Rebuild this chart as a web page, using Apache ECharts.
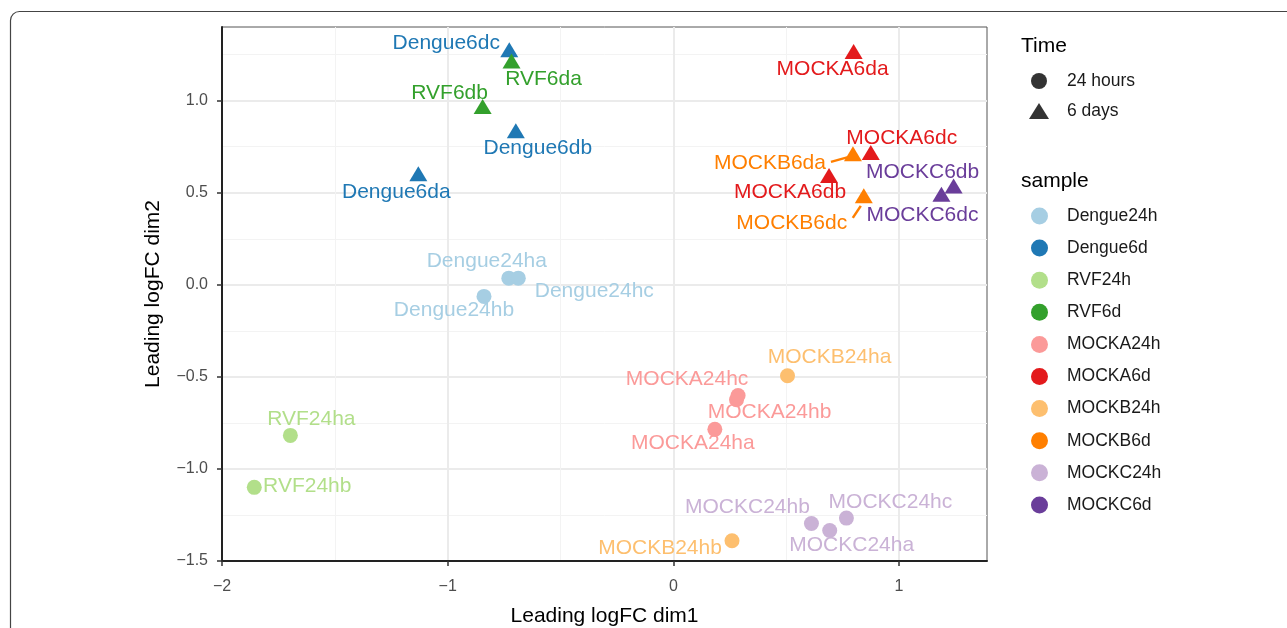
<!DOCTYPE html>
<html>
<head>
<meta charset="utf-8">
<title>MDS plot</title>
<script src="https://cdn.jsdelivr.net/npm/echarts@6.0.0/dist/echarts.min.js"></script>
<style>
html, body { margin: 0; padding: 0; background: #fff; }
#chart { width: 1287px; height: 628px; }
</style>
</head>
<body>
<div id="chart"></div>
<script>
'use strict';
// legend groups
var samples = ['Dengue24h', 'Dengue6d', 'RVF24h', 'RVF6d', 'MOCKA24h', 'MOCKA6d', 'MOCKB24h', 'MOCKB6d', 'MOCKC24h', 'MOCKC6d'];
var sampleTime = ['24 hours', '6 days', '24 hours', '6 days', '24 hours', '6 days', '24 hours', '6 days', '24 hours', '6 days'];
var timeGroups = ['24 hours', '6 days'];

// one entry per library
var pointNames = ['Dengue24ha', 'Dengue24hb', 'Dengue24hc', 'Dengue6da', 'Dengue6db', 'Dengue6dc',
	'RVF24ha', 'RVF24hb', 'RVF6da', 'RVF6db',
	'MOCKA24ha', 'MOCKA24hb', 'MOCKA24hc', 'MOCKA6da', 'MOCKA6db', 'MOCKA6dc',
	'MOCKB24ha', 'MOCKB24hb', 'MOCKB6da', 'MOCKB6dc',
	'MOCKC24ha', 'MOCKC24hb', 'MOCKC24hc', 'MOCKC6db', 'MOCKC6dc'];
var pointSample = ['Dengue24h', 'Dengue24h', 'Dengue24h', 'Dengue6d', 'Dengue6d', 'Dengue6d',
	'RVF24h', 'RVF24h', 'RVF6d', 'RVF6d',
	'MOCKA24h', 'MOCKA24h', 'MOCKA24h', 'MOCKA6d', 'MOCKA6d', 'MOCKA6d',
	'MOCKB24h', 'MOCKB24h', 'MOCKB6d', 'MOCKB6d',
	'MOCKC24h', 'MOCKC24h', 'MOCKC24h', 'MOCKC6d', 'MOCKC6d'];
var dim1 = [-0.729, -0.839, -0.687, -1.130, -0.698, -0.727,
	-1.697, -1.857, -0.717, -0.845,
	0.184, 0.280, 0.287, 0.799, 0.690, 0.875,
	0.506, 0.260, 0.796, 0.844,
	0.693, 0.612, 0.767, 1.242, 1.188];
var dim2 = [0.036, -0.063, 0.036, 0.603, 0.836, 1.276,
	-0.818, -1.100, 1.216, 0.968,
	-0.785, -0.624, -0.601, 1.267, 0.593, 0.718,
	-0.494, -1.390, 0.711, 0.483,
	-1.334, -1.296, -1.267, 0.537, 0.492];

var xTicks = [-2, -1, 0, 1];
var xMinorTicks = [-1.5, -0.5, 0.5];
var yTicks = [-1.5, -1, -0.5, 0, 0.5, 1];
var yMinorTicks = [-1.25, -0.75, -0.25, 0.25, 0.75, 1.25];

// styling / layout
var palette = ['#A6CEE3', '#1F78B4', '#B2DF8A', '#33A02C', '#FB9A99', '#E31A1C', '#FDBF6F', '#FF7F00', '#CAB2D6', '#6A3D9A'];
var FONT = '"Liberation Sans", Arial, Helvetica, sans-serif';
// label offsets from the point, in px (repel result)
var nudge = {
	Dengue24ha: [-22, -17], Dengue24hb: [-30, 14], Dengue24hc: [76, 13],
	Dengue6da: [-22, 18], Dengue6db: [22, 17], Dengue6dc: [-63, -7],
	RVF24ha: [21, -16], RVF24hb: [53, -1], RVF6da: [32, 18], RVF6db: [-33, -13],
	MOCKA24ha: [-22, 14], MOCKA24hb: [33, 13], MOCKA24hc: [-51, -16],
	MOCKA6da: [-21, 18], MOCKA6db: [-39, 17], MOCKA6dc: [31, -14],
	MOCKB24ha: [42, -19], MOCKB24hb: [-72, 7], MOCKB6da: [-83, 9], MOCKB6dc: [-72, 27],
	MOCKC24ha: [22, 15], MOCKC24hb: [-64, -16], MOCKC24hc: [44, -16],
	MOCKC6db: [-31, -14], MOCKC6dc: [-19, 21]
};
// segment ends relative to point, px
var leaders = {
	MOCKB6da: [-22, 8, -4, 3],
	MOCKB6dc: [-11, 22, -3, 10]
};

var chart = echarts.init(document.getElementById('chart'));

var series = samples.map(function(s, k) {
	var tri = sampleTime[k] === '6 days';
	var data = [];
	pointNames.forEach(function(n, i) {
		if (pointSample[i] === s) data.push({ name: n, value: [dim1[i], dim2[i]] });
	});
	return {
		name: s,
		type: 'scatter',
		xAxisIndex: 0,
		yAxisIndex: 0,
		symbol: tri ? 'triangle' : 'circle',
		symbolSize: tri ? [18, 15] : 15,
		itemStyle: { color: palette[k], opacity: 1 },
		data: data,
		z: 3,
		label: {
			show: true,
			position: 'inside',
			formatter: '{b}',
			color: palette[k],
			fontSize: 21,
			fontFamily: FONT,
			textBorderWidth: 0
		},
		labelLayout: function(p) {
			var o = nudge[p.text] || [0, 0];
			return { dx: o[0], dy: o[1] };
		},
		emphasis: { disabled: true }
	};
});

// legend-only series for the shape key
timeGroups.forEach(function(t) {
	series.push({ name: t, type: 'scatter', data: [], itemStyle: { color: '#000' } });
});

// repel segments
var leaderIdx = pointNames.map(function(n, i) { return leaders[n] ? i : -1; }).filter(function(i) { return i >= 0; });
series.push({
	name: 'leaders',
	type: 'custom',
	xAxisIndex: 0,
	yAxisIndex: 0,
	silent: true,
	z: 4,
	data: leaderIdx.map(function(i) { return [dim1[i], dim2[i], i]; }),
	renderItem: function(params, api) {
		var p = api.coord([api.value(0), api.value(1)]);
		var seg = leaders[pointNames[api.value(2)]];
		return {
			type: 'line',
			shape: { x1: p[0] + seg[0], y1: p[1] + seg[1], x2: p[0] + seg[2], y2: p[1] + seg[3] },
			style: { stroke: '#FF7F00', lineWidth: 2.5 }
		};
	}
});

var minorLine = { show: true, lineStyle: { color: '#F3F3F3', width: 1 } };
var majorLine = { show: true, lineStyle: { color: '#EBEBEB', width: 2 } };
function fmt1(v) { return v.toFixed(1).replace('-', '\u2212'); }
function fmt0(v) { return String(v).replace('-', '\u2212'); }

chart.setOption({
	animation: false,
	backgroundColor: '#fff',
	textStyle: { fontFamily: FONT },
	grid: {
		left: 222, top: 27, width: 765, height: 534,
		show: true, borderColor: '#555', borderWidth: 1, backgroundColor: '#fff',
		containLabel: false, outerBoundsMode: 'none'
	},
	xAxis: [{
		type: 'value', min: -2, max: 1.39,
		name: 'Leading logFC dim1', nameLocation: 'middle', nameGap: 45,
		nameTextStyle: { fontSize: 21, color: '#000', fontFamily: FONT },
		axisLine: { show: true, onZero: false, lineStyle: { color: '#222', width: 2 } },
		axisTick: { show: true, length: 5, customValues: xTicks, lineStyle: { color: '#333', width: 1.5 } },
		axisLabel: { customValues: xTicks, formatter: fmt0, fontSize: 16, color: '#4d4d4d', margin: 18 },
		splitLine: majorLine
	}, {
		type: 'value', min: -2, max: 1.39, gridIndex: 0, position: 'bottom',
		axisLine: { show: false }, axisLabel: { show: false },
		axisTick: { show: false, customValues: xMinorTicks },
		splitLine: minorLine
	}],
	yAxis: [{
		type: 'value', min: -1.5, max: 1.4,
		name: 'Leading logFC dim2', nameLocation: 'middle', nameGap: 58,
		nameTextStyle: { fontSize: 21, color: '#000', fontFamily: FONT },
		axisLine: { show: true, onZero: false, lineStyle: { color: '#222', width: 2 } },
		axisTick: { show: true, length: 5, customValues: yTicks, lineStyle: { color: '#333', width: 1.5 } },
		axisLabel: { customValues: yTicks, formatter: fmt1, fontSize: 16, color: '#4d4d4d', margin: 14 },
		splitLine: majorLine
	}, {
		type: 'value', min: -1.5, max: 1.4, gridIndex: 0, position: 'left',
		axisLine: { show: false }, axisLabel: { show: false },
		axisTick: { show: false, customValues: yMinorTicks },
		splitLine: minorLine
	}],
	legend: [{
		data: timeGroups.map(function(t, i) { return { name: t, icon: i === 0 ? 'circle' : 'triangle' }; }),
		orient: 'vertical', left: 1024, top: 67,
		itemWidth: 20, itemHeight: 16, itemGap: 12,
		selectedMode: false,
		textStyle: { fontSize: 17.5, color: '#1a1a1a', fontFamily: FONT, padding: [0, 0, 0, 13] }
	}, {
		data: samples.map(function(s) { return { name: s, icon: 'circle' }; }),
		orient: 'vertical', left: 1026, top: 202,
		itemWidth: 17, itemHeight: 17, itemGap: 14.1,
		selectedMode: false,
		textStyle: { fontSize: 17.5, color: '#1a1a1a', fontFamily: FONT, padding: [0, 0, 0, 14] }
	}],
	graphic: [{
		type: 'rect', silent: true, z: -10,
		shape: { x: 10.5, y: 11.5, width: 1400, height: 700, r: 9 },
		style: { fill: 'none', stroke: '#444', lineWidth: 1.2 }
	}, {
		type: 'text', left: 1021, top: 36,
		style: { text: 'Time', fontSize: 21, fill: '#000', fontFamily: FONT }
	}, {
		type: 'text', left: 1021, top: 171,
		style: { text: 'sample', fontSize: 21, fill: '#000', fontFamily: FONT }
	}],
	series: series
});
</script>
</body>
</html>
